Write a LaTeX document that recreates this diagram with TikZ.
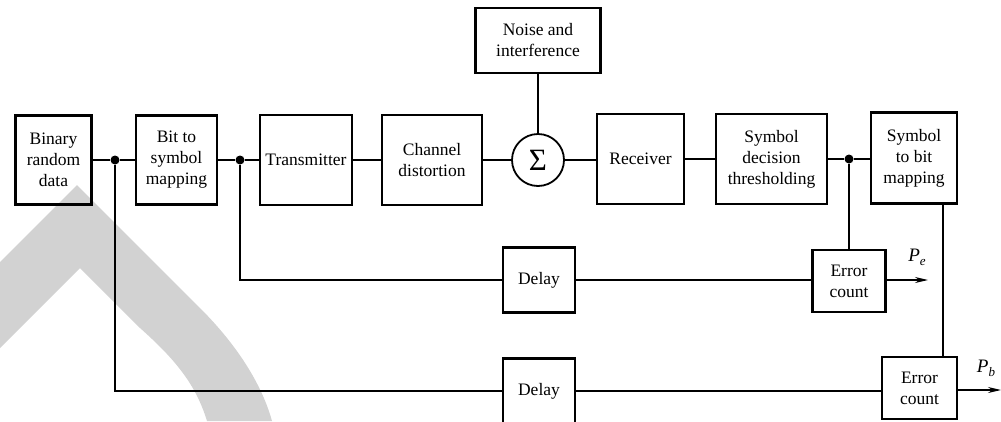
\documentclass[tikz,border=0pt]{standalone}
\usepackage{fontspec}
\setmainfont{Liberation Serif}
\usetikzlibrary{arrows.meta,calc}
\begin{document}
\begin{tikzpicture}[x=1pt,y=-1pt,
  blk/.style={draw, line width=2.6pt, align=center, inner sep=0pt, font=\fontsize{17.5}{21}\selectfont},
  wire/.style={line width=1.2pt},
  jdot/.style={circle, fill, inner sep=0pt, minimum size=9pt},
  outarrow/.style={wire, -{Stealth[length=13pt,width=6pt]}},
  plabel/.style={font=\fontsize{19}{19}\selectfont\itshape, inner sep=0pt}]
\clip (0,0) rectangle (1001,421);
% watermark band
\fill[gray!35] (0,262) -- (77,185) -- (200,308) .. controls (238,346) and (262,385) .. (272,421)
  -- (207,421) .. controls (196,385) and (176,360) .. (140,328) -- (80,268) -- (0,348) -- cycle;
% main row
\node[blk, minimum width=76pt, minimum height=89pt] (bin) at (53.5,160) {Binary\\random\\data};
\node[blk, minimum width=81pt, minimum height=89pt] (b2s) at (176.5,160) {Bit to\\symbol\\mapping};
\node[blk, minimum width=92pt, minimum height=90pt] (tx) at (306,160) {Transmitter};
\node[blk, minimum width=100pt, minimum height=90pt] (ch) at (432,160) {Channel\\distortion};
\node[circle, draw, line width=1.8pt, minimum size=52pt, inner sep=0pt, font=\fontsize{31}{31}\selectfont] (sum) at (538,160) {Σ};
\node[blk, minimum width=125pt, minimum height=65pt] (noise) at (538,40.5) {Noise and\\interference};
\node[blk, minimum width=87pt, minimum height=90pt] (rx) at (640.5,159) {Receiver};
\node[blk, minimum width=111pt, minimum height=90pt] (sym) at (771.5,159) {Symbol\\decision\\thresholding};
\node[blk, minimum width=86pt, minimum height=91pt] (s2b) at (914,158) {Symbol\\to bit\\mapping};
% lower rows
\node[blk, minimum width=72pt, minimum height=65pt] (d1) at (539,280) {Delay};
\node[blk, minimum width=72pt, minimum height=65pt] (d2) at (539,391) {Delay};
\node[blk, minimum width=73pt, minimum height=62pt] (ec1) at (849,281) {Error\\count};
\node[blk, minimum width=75pt, minimum height=62pt] (ec2) at (919.5,388) {Error\\count};
% junctions
\node[jdot] (j1) at (115,160) {};
\node[jdot] (j2) at (240,160) {};
\node[jdot] (j3) at (849,159) {};
\coordinate (tap) at (943,0);
\coordinate (pe) at (928,280);
\coordinate (pb) at (1001,390);
% connectors
\draw[wire] (bin.east |- j1) -- (j1) -- (b2s.west |- j1);
\draw[wire] (b2s.east |- j2) -- (j2) -- (tx.west |- j2);
\draw[wire] (tx) -- (ch);
\draw[wire] (ch) -- (sum);
\draw[wire] (noise.south) -- (sum.north);
\draw[wire] (sum) -- (rx.west |- sum);
\draw[wire] (rx.east |- j3) -- (sym.west |- j3);
\draw[wire] (sym.east |- j3) -- (j3) -- (s2b.west |- j3);
\draw[wire] (j2) |- (d1.west);
\draw[wire] (d1.east) -- (ec1.west |- d1.east);
\draw[wire] (j3) -- (ec1.north);
\draw[outarrow] (ec1.east |- pe) -- (pe);
\draw[wire] (j1) |- (d2.west);
\draw[wire] (d2.east) -- (ec2.west |- d2.east);
\draw[wire] (s2b.south -| tap) -- (ec2.north -| tap);
\draw[outarrow] (ec2.east |- pb) -- (pb);
% labels
\node[plabel] at (917,257) {P\raisebox{-4pt}{\fontsize{13}{13}\selectfont e}};
\node[plabel] at (986,368) {P\raisebox{-4pt}{\fontsize{13}{13}\selectfont b}};
\end{tikzpicture}
\end{document}
